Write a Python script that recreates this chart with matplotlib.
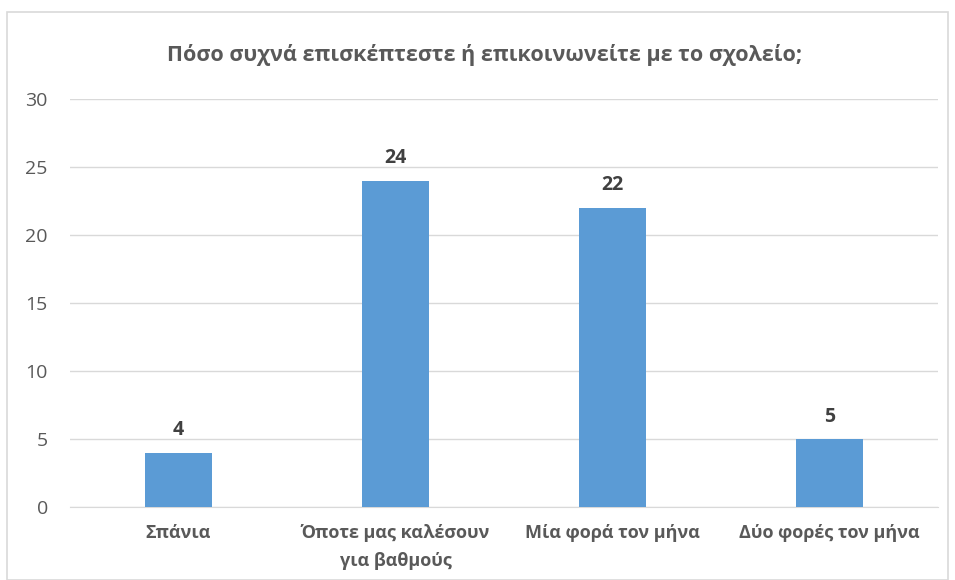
import matplotlib
matplotlib.use("Agg")
import matplotlib.pyplot as plt
from matplotlib.patches import Rectangle

categories = ["Σπάνια", "Όποτε μας καλέσουν\nγια βαθμούς", "Μία φορά τον μήνα", "Δύο φορές τον μήνα"]
values = [4, 24, 22, 5]
yticks = [0, 5, 10, 15, 20, 25, 30]
title = "Πόσο συχνά επισκέπτεστε ή επικοινωνείτε με το σχολείο;"

plt.rcParams['font.family'] = ['Open Sans', 'DejaVu Sans']
txt = '#595959'

fig = plt.figure(figsize=(9.55, 5.8), dpi=100)
fig.patches.append(Rectangle((7/955, 0), (948-7)/955, 1-12/580, transform=fig.transFigure,
                             fill=False, edgecolor='#D9D9D9', linewidth=1.2))
ax = fig.add_axes([70/955, 1-507/580, (938-70)/955, (507-99)/580])
x = list(range(len(categories)))
bars = ax.bar(x, values, width=0.31, color='#5B9BD5', zorder=3)
ax.set_xlim(-0.5, len(categories)-0.5)
ax.set_ylim(0, 30)
ax.set_yticks(yticks)
ax.set_yticklabels([str(t) for t in yticks], fontsize=14, color=txt)
ax.set_xticks(x)
ax.set_xticklabels(categories, fontsize=13, fontweight='bold', color=txt, linespacing=1.75)
ax.tick_params(axis='both', length=0)
ax.tick_params(axis='x', pad=12)
ax.tick_params(axis='y', pad=16)
ax.grid(axis='y', color='#D9D9D9', linewidth=1, zorder=0)
for s in ['top', 'right', 'left']:
    ax.spines[s].set_visible(False)
ax.spines['bottom'].set_color('#D9D9D9')
for xi, v in zip(x, values):
    ax.annotate(str(v), (xi, v), xytext=(0, 9), textcoords='offset points', ha='center', va='bottom',
                fontsize=14, fontweight='bold', color='#404040')
fig.text(485/955, 1-55/580, title, ha='center', va='center', fontsize=15.5, fontweight='bold', color=txt)
fig.savefig('out.png', dpi=100)
